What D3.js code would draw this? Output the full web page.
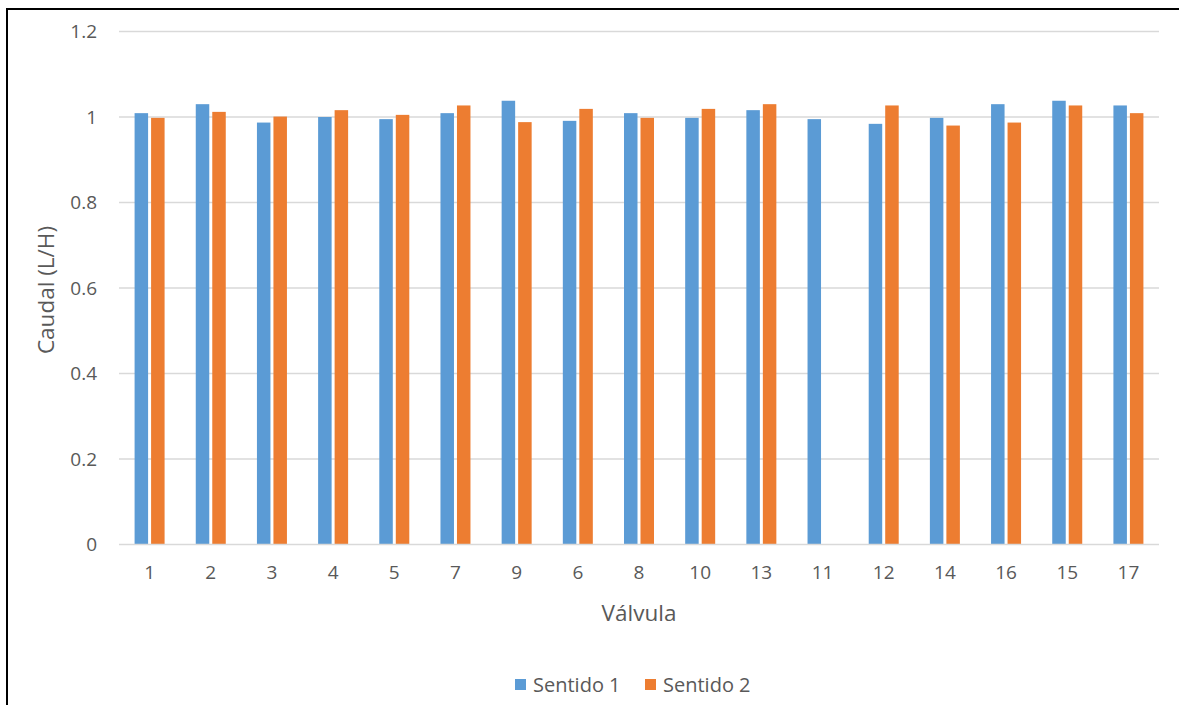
<!DOCTYPE html>
<html>
<head>
<meta charset="utf-8">
<script src="https://cdn.jsdelivr.net/npm/d3@7"></script>
<style>
  html, body { margin: 0; padding: 0; background: #fff; overflow: hidden; }
  svg { display: block; }
  text { font-family: "Open Sans", "DejaVu Sans", sans-serif; fill: #595959; }
</style>
</head>
<body>
<svg id="chart" width="1179" height="705"></svg>
<script>
// Flow per valve, in the order the valves are listed on the axis
const valvulas = ["1", "2", "3", "4", "5", "7", "9", "6", "8", "10", "13", "11", "12", "14", "16", "15", "17"];
const sentido1 = [1.009, 1.030, 0.987, 1.000, 0.995, 1.009, 1.038, 0.991, 1.009, 0.998, 1.016, 0.995, 0.984, 0.998, 1.030, 1.038, 1.027];
const sentido2 = [0.998, 1.012, 1.001, 1.016, 1.005, 1.027, 0.988, 1.019, 0.998, 1.019, 1.030, 0, 1.027, 0.980, 0.987, 1.027, 1.009];
const yTicks = [0, 0.2, 0.4, 0.6, 0.8, 1, 1.2];
const seriesNames = ["Sentido 1", "Sentido 2"];
const colors = ["#5B9BD5", "#ED7D31"];

const svg = d3.select("#chart");

// Outer frame of the chart
svg.append("rect")
  .attr("x", 7).attr("y", 9)
  .attr("width", 1200).attr("height", 720)
  .attr("fill", "none").attr("stroke", "#000").attr("stroke-width", 2);

const plot = { left: 119, right: 1159, top: 31.5, bottom: 544.5 };

const x = d3.scaleBand().domain(valvulas).range([plot.left, plot.right]).paddingInner(0).paddingOuter(0);
const y = d3.scaleLinear().domain([0, 1.2]).range([plot.bottom, plot.top]);

// Horizontal gridlines
svg.append("g").selectAll("line")
  .data(yTicks.filter(t => t > 0))
  .join("line")
  .attr("x1", plot.left).attr("x2", plot.right)
  .attr("y1", d => y(d)).attr("y2", d => y(d))
  .attr("stroke", "#D9D9D9").attr("stroke-width", 1.3);

// Y axis labels
const yAxis = d3.axisLeft(y).tickValues(yTicks).tickFormat(d => String(d)).tickSize(0).tickPadding(0);
const yg = svg.append("g").attr("transform", `translate(${plot.left - 22},0)`).call(yAxis);
yg.select(".domain").remove();
yg.selectAll("text").attr("font-size", 19).attr("fill", "#595959").attr("font-family", "Open Sans");

// Bars
const barW = 13.5, gap = 3;
const groups = svg.append("g").selectAll("g")
  .data(valvulas.map((v, i) => ({ v, vals: [sentido1[i], sentido2[i]] })))
  .join("g")
  .attr("transform", d => `translate(${x(d.v) + x.bandwidth() / 2},0)`);

groups.selectAll("rect")
  .data(d => d.vals.map((val, k) => ({ val, k })))
  .join("rect")
  .attr("x", d => d.k === 0 ? -(barW + gap / 2) : gap / 2)
  .attr("width", barW)
  .attr("y", d => y(d.val))
  .attr("height", d => y(0) - y(d.val))
  .attr("fill", d => colors[d.k]);

// Baseline
svg.append("line")
  .attr("x1", plot.left).attr("x2", plot.right)
  .attr("y1", y(0)).attr("y2", y(0))
  .attr("stroke", "#D9D9D9").attr("stroke-width", 1.3);

// X axis labels
const xAxis = d3.axisBottom(x).tickSize(0).tickPadding(0);
const xg = svg.append("g").attr("transform", `translate(0,${plot.bottom + 16})`).call(xAxis);
xg.select(".domain").remove();
xg.selectAll("text").attr("font-size", 19).attr("fill", "#595959").attr("font-family", "Open Sans").attr("dy", "0.95em");

// Axis titles
svg.append("text")
  .attr("x", 639).attr("y", 621)
  .attr("text-anchor", "middle")
  .attr("font-size", 22.5)
  .text("Válvula");

svg.append("text")
  .attr("transform", "translate(54,290) rotate(-90)")
  .attr("text-anchor", "middle")
  .attr("font-size", 22.5)
  .text("Caudal (L/H)");

// Legend
const legend = svg.append("g").attr("transform", "translate(515,685)");
const items = [{ name: seriesNames[0], c: colors[0], dx: 0 }, { name: seriesNames[1], c: colors[1], dx: 130 }];
items.forEach(it => {
  legend.append("rect").attr("x", it.dx).attr("y", -6).attr("width", 11).attr("height", 11).attr("fill", it.c);
  legend.append("text").attr("x", it.dx + 18).attr("y", 7).attr("font-size", 20).text(it.name);
});
</script>
</body>
</html>
